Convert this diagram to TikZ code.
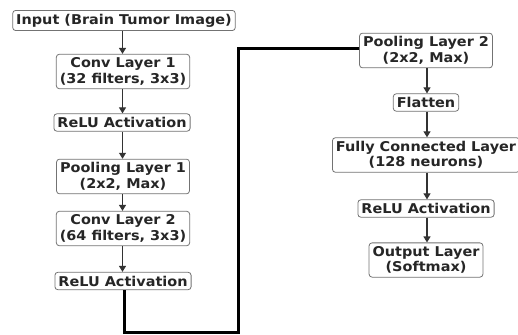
\documentclass[tikz,border=0pt]{standalone}
\usepackage{fontspec}
\setmainfont{DejaVu Sans}[FakeStretch=1.07]
\usetikzlibrary{arrows.meta}
\begin{document}
\begin{tikzpicture}[x=1pt,y=-1pt,
  box/.style={draw=black!55,line width=0.8pt,rounded corners=3pt,fill=white,align=center,
    font=\fontsize{13.5}{15.5}\selectfont\bfseries,text=black!85,inner xsep=3.5pt,inner ysep=3.5pt},
  arr/.style={draw=black!80,line width=1.1pt,-{Triangle[length=6pt,width=7pt]}},
  thick line/.style={draw=black,line width=3pt}]
\useasboundingbox (0,0) rectangle (518,334);
\node[box] (in) at (124,20.5) {Input (Brain Tumor Image)};
\node[box] (c1) at (123,71.5) {Conv Layer 1\\(32 filters, 3x3)};
\node[box] (r1) at (122,122.5) {ReLU Activation};
\node[box] (p1) at (123,176.5) {Pooling Layer 1\\(2x2, Max)};
\node[box] (c2) at (123,228.5) {Conv Layer 2\\(64 filters, 3x3)};
\node[box] (r2) at (123,281) {ReLU Activation};
\node[box] (p2) at (426,50.5) {Pooling Layer 2\\(2x2, Max)};
\node[box] (fl) at (426,102.5) {Flatten};
\node[box] (fc) at (426,155) {Fully Connected Layer\\(128 neurons)};
\node[box] (r3) at (426,208.5) {ReLU Activation};
\node[box] (out) at (426,260) {Output Layer\\(Softmax)};
\coordinate (lx) at (122.5,0);
\coordinate (rx) at (427,0);
\draw[arr] (in.south -| lx) -- (c1.north -| lx);
\draw[arr] (c1.south -| lx) -- (r1.north -| lx);
\draw[arr] (r1.south -| lx) -- (p1.north -| lx);
\draw[arr] (p1.south -| lx) -- (c2.north -| lx);
\draw[arr] (c2.south -| lx) -- (r2.north -| lx);
\draw[arr] (p2.south -| rx) -- (fl.north -| rx);
\draw[arr] (fl.south -| rx) -- (fc.north -| rx);
\draw[arr] (fc.south -| rx) -- (r3.north -| rx);
\draw[arr] (r3.south -| rx) -- (out.north -| rx);
\coordinate (b1) at (124,332);
\coordinate (b2) at (238,332);
\coordinate (b3) at (238,49);
\draw[thick line,line join=miter] (r2.south -| b1) -- (b1) -- (b2) -- (b3) -- (b3 -| p2.west);
\end{tikzpicture}
\end{document}
